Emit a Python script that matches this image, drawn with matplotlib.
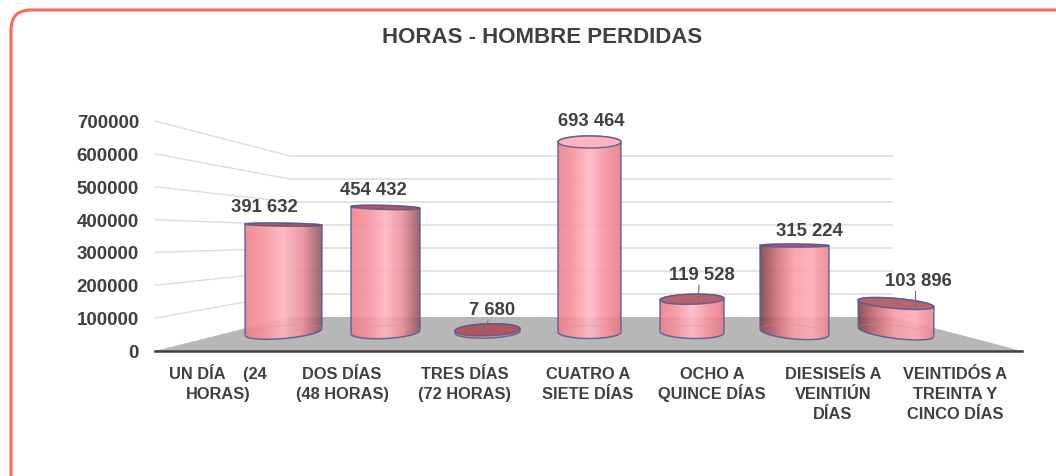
#!/usr/bin/env python3
"""Horas-hombre perdidas: fake-3D cylinder chart, drawn on a pixel-sized axes."""

import numpy as np
import matplotlib
matplotlib.use("Agg")
import matplotlib.pyplot as plt
from matplotlib.colors import LinearSegmentedColormap, to_rgba
from matplotlib.patches import FancyBboxPatch, Polygon

plt.rcParams["font.family"] = ["Liberation Sans", "DejaVu Sans"]

# ── Data ─────────────────────────────────────────────────────────────────
CATEGORIES = [
    "UN DÍA    (24\nHORAS)",
    "DOS DÍAS\n(48 HORAS)",
    "TRES DÍAS\n(72 HORAS)",
    "CUATRO A\nSIETE DÍAS",
    "OCHO A\nQUINCE DÍAS",
    "DIESISEÍS A\nVEINTIÚN\nDÍAS",
    "VEINTIDÓS A\nTREINTA Y\nCINCO DÍAS",
]
VALUES = [391632, 454432, 7680, 693464, 119528, 315224, 103896]
VALUE_LABELS = ["391 632", "454 432", "7 680", "693 464", "119 528", "315 224", "103 896"]
TICKS = [0, 100000, 200000, 300000, 400000, 500000, 600000, 700000]

# ── Layout (pixels of the 1056x477 canvas) ───────────────────────────────
BAR_LEFT = [245, 351, 455, 558, 660, 760, 858]
BAR_RIGHT = [322, 420, 520, 621, 724, 829, 934]
TOP_RY = [1.5, 2.0, 6.0, 6.0, 5.0, 1.5, 5.0]
BASE_RY = [6.5, 6.5, 6.0, 6.5, 6.5, 7.0, 6.5]
TOP_TILT = [0.8, 1.5, -2, 0, -1.5, 0.3, 5]
BASE_TILT = [-5, -3, -2, 0, 1.5, 5, 7]
DARK_SIDE = [1, 1, 0, 0, 0, -1, -1]  # which side of the cylinder is shaded
CAP_FILL = ["#b2555f", "#b2555f", "#b2555f", "#ffb4c0", "#b8646e", "#b2555f", "#b8646e"]
LABEL_X = [264, 373, 492, 591, 702, 809, 918]
LABEL_Y = [212, 195, 315, 126, 280, 236, 286]  # text baselines
LEADER_X = [None, None, (488, 479), None, (699, 698), None, (915, 915)]
LEADER_Y = [None, None, (322, 337), None, (286, 305), None, (292, 308)]
CAT_X = [218, 342, 465, 588, 712, 833, 955]
CAT_LINE_Y = [379, 399, 419]

FRONT_ZERO, FRONT_MAX = 352, 122
BACK_ZERO, BACK_MAX = 318, 157
BAR_ZERO, BAR_SCALE = 333, 27.4 / 100000
TEXT_COLOR = "#404040"
EDGE_COLOR = to_rgba("#565a90", 0.85)


def y_front(v):
    return FRONT_ZERO - (FRONT_ZERO - FRONT_MAX) * v / 700000


def y_back(v):
    return BACK_ZERO - (BACK_ZERO - BACK_MAX) * v / 700000


def y_bar(v):
    return BAR_ZERO - v * BAR_SCALE


def ellipse(cx, cy, rx, ry, tilt, t):
    a = np.radians(tilt)
    ex, ey = rx * np.cos(t), ry * np.sin(t)
    return np.column_stack([cx + ex * np.cos(a) - ey * np.sin(a),
                            cy + ex * np.sin(a) + ey * np.cos(a)])


def bar_cmap(dark_side):
    if dark_side > 0:
        stops = ["#ee808c", "#f7949f", "#ffb4c0", "#ec8e9a", "#8f565e"]
    elif dark_side < 0:
        stops = ["#7d4248", "#d0707a", "#fb9eaa", "#ffaab6", "#ee8490"]
    else:
        stops = ["#ea808c", "#f7949f", "#ffbcc8", "#f7949f", "#e47a86"]
    return LinearSegmentedColormap.from_list("cyl", stops)


fig = plt.figure(figsize=(10.56, 4.77), dpi=100, facecolor="white")
ax = fig.add_axes([0, 0, 1, 1])
ax.set_xlim(0, 1056)
ax.set_ylim(477, 0)
ax.axis("off")

# Rounded frame, only its top and left edges fall on the canvas
ax.add_patch(FancyBboxPatch((11, 11), 1100, 520, boxstyle="round,pad=0,rounding_size=20",
                            fill=False, edgecolor="#ff6a5c", linewidth=2.2, zorder=1))

# Floor
ax.add_patch(Polygon([(155, FRONT_ZERO), (1022, FRONT_ZERO), (892, BACK_ZERO), (290, BACK_ZERO)],
                     closed=True, facecolor="#b7b7b7", edgecolor="none", zorder=2))

# Gridlines: side wall then back wall
for v in TICKS[1:]:
    ax.plot([155, 290], [y_front(v), y_back(v)], color="#dcdcdc", lw=1.0, zorder=2)
    ax.plot([290, 892], [y_back(v), y_back(v)], color="#e4e4e4", lw=1.4, zorder=2)

ax.plot([155, 1022], [FRONT_ZERO, FRONT_ZERO], color="#404040", lw=1.8, zorder=3)

# Cylinders
for i, v in enumerate(VALUES):
    cx = (BAR_LEFT[i] + BAR_RIGHT[i]) / 2
    rx = (BAR_RIGHT[i] - BAR_LEFT[i]) / 2
    top, base = y_bar(v), BAR_ZERO

    t_top = np.linspace(np.pi, 2 * np.pi, 60)
    t_base = np.linspace(0, np.pi, 60)
    outline = np.vstack([ellipse(cx, top, rx, TOP_RY[i], TOP_TILT[i], t_top),
                         ellipse(cx, base, rx, BASE_RY[i], BASE_TILT[i], t_base)])

    poly = Polygon(outline, closed=True, facecolor="none", edgecolor=EDGE_COLOR, lw=1.1, zorder=6)
    ax.add_patch(poly)
    im = ax.imshow(np.linspace(0, 1, 128).reshape(1, -1), cmap=bar_cmap(DARK_SIDE[i]),
                   extent=[cx - rx, cx + rx, outline[:, 1].max(), outline[:, 1].min()],
                   aspect="auto", alpha=0.9, zorder=5)
    im.set_clip_path(poly)

    # faint back rim of the base
    rim = ellipse(cx, base, rx, BASE_RY[i], BASE_TILT[i], np.linspace(np.pi, 2 * np.pi, 40))
    ax.plot(rim[:, 0], rim[:, 1], color="#d98a94", lw=0.6, alpha=0.5, zorder=6)

    # top cap
    cap = ellipse(cx, top, rx, TOP_RY[i], TOP_TILT[i], np.linspace(0, 2 * np.pi, 80))
    ax.add_patch(Polygon(cap, closed=True, facecolor=CAP_FILL[i], edgecolor=EDGE_COLOR,
                         lw=1.1, zorder=7))

    if LEADER_X[i] is not None:
        ax.plot(LEADER_X[i], LEADER_Y[i], color="#7a7070", lw=0.8, zorder=8)

    ax.text(LABEL_X[i], LABEL_Y[i], VALUE_LABELS[i], ha="center", va="baseline",
            fontsize=13.3, fontweight="bold", color=TEXT_COLOR, zorder=9)

# Axis text
for v in TICKS:
    ax.text(139, y_front(v) + 6, str(v), ha="right", va="baseline",
            fontsize=13.5, fontweight="bold", color=TEXT_COLOR)

# one text per line, mpl's own line spacing shifts with descenders
for x, cat in zip(CAT_X, CATEGORIES):
    for y, line in zip(CAT_LINE_Y, cat.split("\n")):
        ax.text(x, y, line, ha="center", va="baseline", fontsize=11.8,
                fontweight="bold", color=TEXT_COLOR)

ax.text(542, 43, "HORAS - HOMBRE PERDIDAS", ha="center", va="baseline",
        fontsize=16, fontweight="bold", color=TEXT_COLOR)

ax.set_xlim(0, 1056)
ax.set_ylim(477, 0)
fig.savefig("out.png", dpi=100, facecolor="white")
